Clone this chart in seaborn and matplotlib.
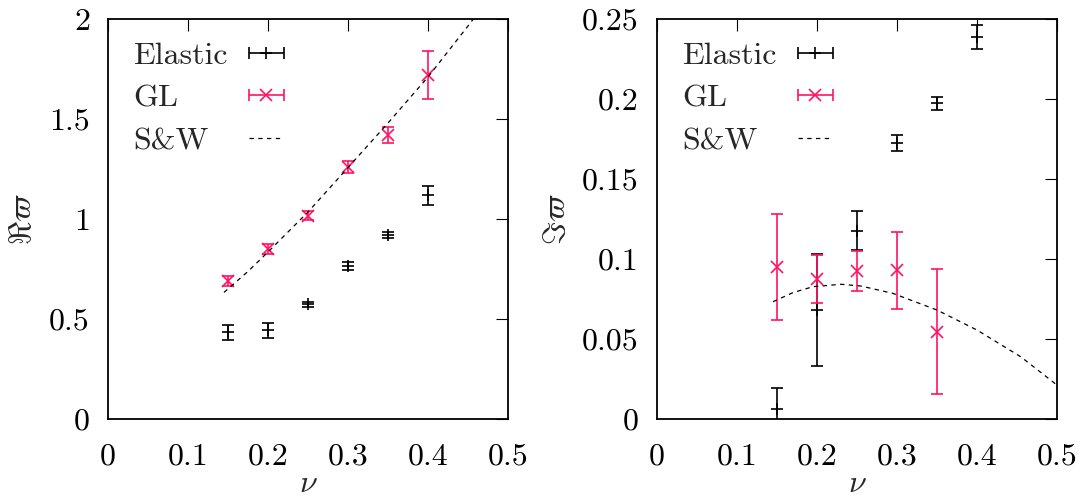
import numpy as np
import matplotlib
matplotlib.use("Agg")
import matplotlib.pyplot as plt
import seaborn as sns
from matplotlib.legend_handler import HandlerErrorbar
from matplotlib.container import ErrorbarContainer
from matplotlib.lines import Line2D

# ---------------- data ----------------
nu = [0.15, 0.20, 0.25, 0.30, 0.35, 0.40]

# real part
re_elastic = [0.433, 0.443, 0.573, 0.765, 0.920, 1.118]
re_elastic_err = [0.039, 0.039, 0.0125, 0.019, 0.017, 0.048]
re_gl = [0.69, 0.85, 1.017, 1.26, 1.42, 1.72]
re_gl_err = [0.023, 0.025, 0.024, 0.032, 0.042, 0.119]

# imaginary part
im_elastic = [0.0063, 0.068, 0.1177, 0.1725, 0.1972, 0.2385]
im_elastic_err = [0.0128, 0.035, 0.012, 0.005, 0.0042, 0.0075]
nu_gl_im = [0.15, 0.20, 0.25, 0.30, 0.35]
im_gl = [0.0948, 0.0875, 0.0925, 0.0930, 0.0546]
im_gl_err = [0.0332, 0.0152, 0.0122, 0.0240, 0.0390]

# S&W curves
sw_nu_re = [0.145, 0.175, 0.20, 0.25, 0.30, 0.35, 0.40, 0.45, 0.47]
sw_re = [0.633, 0.738, 0.835, 1.035, 1.257, 1.480, 1.710, 1.965, 2.07]
sw_nu_im = [0.145, 0.17, 0.195, 0.23, 0.255, 0.295, 0.35, 0.40, 0.455, 0.50]
sw_im = [0.0733, 0.0790, 0.0827, 0.0842, 0.0831, 0.0785, 0.0681, 0.0556, 0.0388, 0.0212]

x_ticks = [0, 0.1, 0.2, 0.3, 0.4, 0.5]
x_tick_labels = ["0", "0.1", "0.2", "0.3", "0.4", "0.5"]
re_ticks = [0, 0.5, 1, 1.5, 2]
re_tick_labels = ["0", "0.5", "1", "1.5", "2"]
im_ticks = [0, 0.05, 0.1, 0.15, 0.2, 0.25]
im_tick_labels = ["0", "0.05", "0.1", "0.15", "0.2", "0.25"]

series_labels = ["Elastic", "GL", "S&W"]

# ---------------- style ----------------
sns.set_theme(style="white")
plt.rcParams.update({
    "font.family": ["cmr10", "DejaVu Serif"],
    "mathtext.fontset": "cm",
    "axes.unicode_minus": False,
    "axes.formatter.use_mathtext": True,
})

PINK = "#ff1464"
FS = 23
SW_DASH = (0, (3.5, 3.5))

fig = plt.figure(figsize=(10.86, 4.98), dpi=100)
W, H = 1086, 498
axL = fig.add_axes([108 / W, 1 - 419 / H, 400 / W, 400 / H])
axR = fig.add_axes([657 / W, 1 - 419 / H, 400 / W, 400 / H])

eb_kw = dict(ms=9, mew=1.2, elinewidth=1.2, capsize=4.3, capthick=1.2, linestyle="none")


def panel(ax, x_el, y_el, e_el, x_gl, y_gl, e_gl, sw_x, sw_y,
          ylim, yticks, yticklabels, ylabel, ylabel_x):
    ax.errorbar(x_el, y_el, yerr=e_el, fmt="+", color="black", zorder=3, **eb_kw)
    ax.errorbar(x_gl, y_gl, yerr=e_gl, fmt="x", color=PINK, zorder=4, **eb_kw)
    sns.lineplot(x=sw_x, y=sw_y, ax=ax, color="black", lw=0.9,
                 linestyle=SW_DASH, zorder=5, legend=False)

    ax.set_xlim(0, 0.5)
    ax.set_ylim(*ylim)
    ax.set_xticks(x_ticks, x_tick_labels)
    ax.set_yticks(yticks, yticklabels)
    ax.tick_params(axis="both", direction="in", length=8.5, width=0.8,
                   top=True, right=True, labelsize=FS, colors="black")
    ax.tick_params(axis="x", pad=17)
    ax.tick_params(axis="y", pad=13)
    for s in ax.spines.values():
        s.set_linewidth(1.3)
        s.set_color("black")
        s.set_visible(True)
    ax.set_facecolor("white")
    ax.grid(False)

    ax.set_xlabel(r"$\nu$", fontsize=FS)
    ax.xaxis.set_label_coords(0.5, -0.13)
    ax.set_ylabel(ylabel, fontsize=FS)
    ax.yaxis.set_label_coords(ylabel_x, 0.5)

    # legend proxies
    h_el = ax.errorbar([np.nan], [np.nan], xerr=[0.01], fmt="+", color="black", **eb_kw)
    h_gl = ax.errorbar([np.nan], [np.nan], xerr=[0.01], fmt="x", color=PINK, **eb_kw)
    h_sw = Line2D([], [], color="black", lw=0.9, linestyle=SW_DASH)
    blank = Line2D([], [], linestyle="none")
    ax.legend([blank, blank, blank, h_el, h_gl, h_sw],
              series_labels + ["", "", ""],
              ncols=2, loc="upper left", bbox_to_anchor=(-0.049, 0.944),
              frameon=False, fontsize=FS, handlelength=1.1, handletextpad=0.3,
              columnspacing=0.67, labelspacing=0.45, borderpad=0, borderaxespad=0,
              handler_map={ErrorbarContainer: HandlerErrorbar(xerr_size=0.55)})


panel(axL, nu, re_elastic, re_elastic_err, nu, re_gl, re_gl_err,
      sw_nu_re, sw_re, (0, 2), re_ticks, re_tick_labels, r"$\Re\varpi$", -0.178)
panel(axR, nu, im_elastic, im_elastic_err, nu_gl_im, im_gl, im_gl_err,
      sw_nu_im, sw_im, (0, 0.25), im_ticks, im_tick_labels, r"$\Im\varpi$", -0.215)

fig.savefig("out.png", dpi=100, facecolor="white")
